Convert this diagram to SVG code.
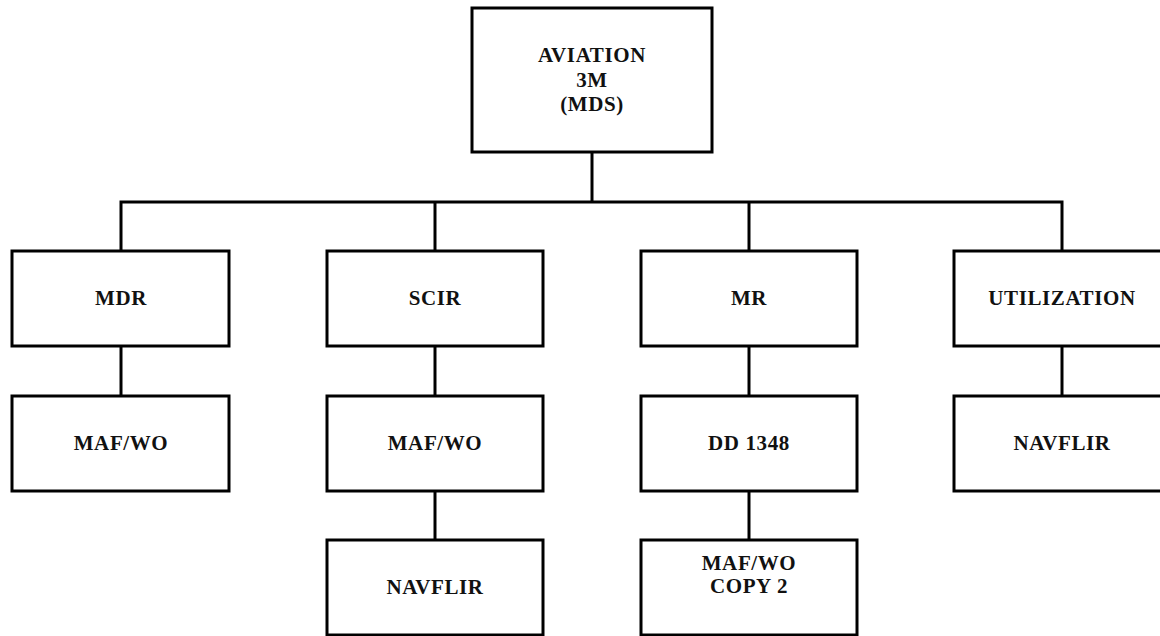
<svg xmlns="http://www.w3.org/2000/svg" width="1160" height="636" viewBox="0 0 1160 636">
<style>
.box{fill:#fff;stroke:#000;stroke-width:3}
.ln{stroke:#000;stroke-width:3;fill:none}
text{font-family:"Liberation Serif","Times New Roman",serif;font-weight:bold;font-size:21px;letter-spacing:0.6px;fill:#111;text-anchor:middle}
</style>
<rect width="1160" height="636" fill="#fff"/>
<g id="connectors">
<line class="ln" x1="592" y1="152" x2="592" y2="202"/>
<polyline class="ln" points="121,251 121,202 1062,202 1062,251"/>
<line class="ln" x1="435" y1="202" x2="435" y2="251"/>
<line class="ln" x1="749" y1="202" x2="749" y2="251"/>
<line class="ln" x1="121" y1="346" x2="121" y2="396"/>
<line class="ln" x1="435" y1="346" x2="435" y2="396"/>
<line class="ln" x1="749" y1="346" x2="749" y2="396"/>
<line class="ln" x1="1062" y1="346" x2="1062" y2="396"/>
<line class="ln" x1="435" y1="491" x2="435" y2="540"/>
<line class="ln" x1="749" y1="491" x2="749" y2="540"/>
</g>
<g id="aviation"><rect class="box" x="472" y="8" width="240" height="144"/><text x="592" y="62">AVIATION</text><text x="592" y="87">3M</text><text x="592" y="111">(MDS)</text></g>
<g id="mdr"><rect class="box" x="12" y="251" width="217" height="95"/><text x="121" y="305">MDR</text></g>
<g id="scir"><rect class="box" x="327" y="251" width="216" height="95"/><text x="435" y="305">SCIR</text></g>
<g id="mr"><rect class="box" x="641" y="251" width="216" height="95"/><text x="749" y="305">MR</text></g>
<g id="utilization"><rect class="box" x="954" y="251" width="216" height="95"/><text x="1062" y="305">UTILIZATION</text></g>
<g id="mdr-mafwo"><rect class="box" x="12" y="396" width="217" height="95"/><text x="121" y="450">MAF/WO</text></g>
<g id="scir-mafwo"><rect class="box" x="327" y="396" width="216" height="95"/><text x="435" y="450">MAF/WO</text></g>
<g id="dd1348"><rect class="box" x="641" y="396" width="216" height="95"/><text x="749" y="450">DD 1348</text></g>
<g id="util-navflir"><rect class="box" x="954" y="396" width="216" height="95"/><text x="1062" y="450">NAVFLIR</text></g>
<g id="scir-navflir"><rect class="box" x="327" y="540" width="216" height="95"/><text x="435" y="594">NAVFLIR</text></g>
<g id="mafwo-copy2"><rect class="box" x="641" y="540" width="216" height="95"/><text x="749" y="570">MAF/WO</text><text x="749" y="593">COPY 2</text></g>
</svg>
